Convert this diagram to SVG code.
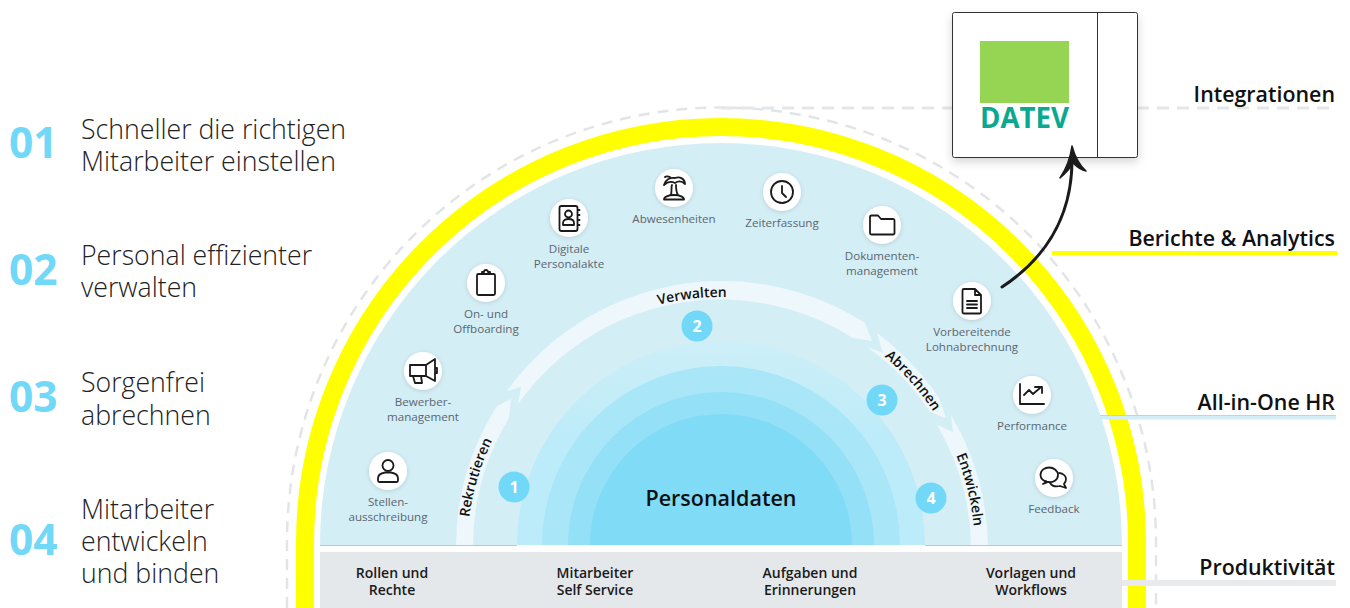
<svg xmlns="http://www.w3.org/2000/svg" width="1350" height="608" viewBox="0 0 1350 608">
<style>
text{font-family:"Open Sans","Noto Sans","Liberation Sans",sans-serif}
.num{font-size:42.500px;font-weight:700;fill:#72d8f7}
.lead{font-size:26.700px;font-weight:300;fill:#222}
.side{font-size:21.400px;font-weight:600;fill:#111;text-anchor:end}
.lab{font-size:11.600px;font-weight:400;fill:#5b6670;text-anchor:middle}
.prod{font-size:14px;font-weight:600;fill:#1a1a1a;text-anchor:middle}
.arc{font-size:14px;font-weight:600;fill:#111;text-anchor:middle}
.band{fill:#eef8fc}
.bub{fill:#72d8f7}
.bubt{font-size:16px;font-weight:700;fill:#fff;text-anchor:middle}
.disc{fill:#fff;filter:url(#sh)}
.ic{fill:none;stroke:#1a1a1a;stroke-width:1.800;stroke-linejoin:round;stroke-linecap:round}
</style>
<defs>
<filter id="sh" x="-40%" y="-40%" width="180%" height="180%"><feDropShadow dx="0" dy="1" stdDeviation="2" flood-color="#000" flood-opacity=".14"/></filter>
<filter id="cs" x="-15%" y="-15%" width="130%" height="135%"><feDropShadow dx="0" dy="4" stdDeviation="5" flood-color="#000" flood-opacity=".16"/></filter>
<linearGradient id="rg" x1="0" y1="0" x2="0" y2="1"><stop offset="0" stop-color="#cdeff8"/><stop offset=".5" stop-color="#bcebf9"/></linearGradient>
<path id="ap" d="M467 551A254 254 0 0 1 975 551"/>
</defs>
<g id="backdrop">
<path d="M287 608V542A434.500 434.500 0 0 1 1156 542V608" fill="none" stroke="#e2e5e7" stroke-width="2.500" stroke-dasharray="11 8"/>
<path d="M305 608V543A416 416 0 0 1 1137 543V608" fill="none" stroke="#ffff00" stroke-width="18"/>
<path d="M320 545A401 402 0 0 1 1122 545Z" fill="#d4eef6"/>
<path d="M320 545.500H517M925 545.500H1122" stroke="#bfc7cc" stroke-width="1"/>
<path d="M517 545A204 204 0 0 1 925 545Z" fill="url(#rg)"/>
<path d="M542 545A179 179 0 0 1 900 545Z" fill="#a9e6f8"/>
<path d="M568 545A153 153 0 0 1 874 545Z" fill="#94e0f7"/>
<path d="M590 545A131 131 0 0 1 852 545Z" fill="#80dbf6"/>
<rect x="320" y="552" width="802" height="56" fill="#e4e8eb"/>
</g>
<g id="intro">
<text class="num" x="9" y="158">01</text>
<text class="lead" x="81" y="138.500">Schneller die richtigen</text>
<text class="lead" x="81" y="170.500">Mitarbeiter einstellen</text>
<text class="num" x="9" y="285">02</text>
<text class="lead" x="81" y="265">Personal effizienter</text>
<text class="lead" x="81" y="297">verwalten</text>
<text class="num" x="9" y="412">03</text>
<text class="lead" x="81" y="392">Sorgenfrei</text>
<text class="lead" x="81" y="424.500">abrechnen</text>
<text class="num" x="9" y="555">04</text>
<text class="lead" x="81" y="519">Mitarbeiter</text>
<text class="lead" x="81" y="551">entwickeln</text>
<text class="lead" x="81" y="583">und binden</text>
</g>
<g id="connectors">
<path d="M1137 108H1336" stroke="#e4e6e8" stroke-width="3" stroke-dasharray="12 8" fill="none"/>
<path d="M722 108H952" stroke="#e4e6e8" stroke-width="3" stroke-dasharray="12 8" fill="none"/>
<rect x="1052" y="251" width="285" height="4" fill="#ffff00"/>
<rect x="1100" y="416" width="236" height="3.500" fill="#d4eef6"/>
<rect x="1100" y="415" width="236" height="1" fill="#b9d6e2"/>
<rect x="1122" y="580" width="214" height="6" fill="#e8eaec"/>
</g>
<g id="process">
<path class="band" d="M456 545A265 265 0 0 1 497 406L511 399L509 418A248 248 0 0 0 473 545Z"/>
<path class="band" d="M507 391A265 265 0 0 1 865 323L872 341L853 338A248 248 0 0 0 518 404L521 387Z"/>
<path class="band" d="M877 333A265 265 0 0 1 939 398L946 418L930 412A248 248 0 0 0 867 347L883 353Z"/>
<path class="band" d="M951 415A266 266 0 0 1 988 545H971A249 249 0 0 0 937 425L953 432Z"/>
<text class="arc"><textPath href="#ap" startOffset="9.300%">Rekrutieren</textPath></text>
<text class="arc"><textPath href="#ap" startOffset="46.400%">Verwalten</textPath></text>
<text class="arc"><textPath href="#ap" startOffset="76.900%">Abrechnen</textPath></text>
<text class="arc"><textPath href="#ap" startOffset="92.300%">Entwickeln</textPath></text>
<g id="step1"><circle class="bub" cx="514" cy="487" r="15.500"/><text class="bubt" x="514" y="493">1</text></g>
<g id="step2"><circle class="bub" cx="697" cy="326" r="15.500"/><text class="bubt" x="697" y="332">2</text></g>
<g id="step3"><circle class="bub" cx="882" cy="400" r="15.500"/><text class="bubt" x="882" y="406">3</text></g>
<g id="step4"><circle class="bub" cx="931" cy="498" r="15.500"/><text class="bubt" x="931" y="504">4</text></g>
</g>
<g id="personaldaten"><text x="721" y="506" font-size="21.500" font-weight="600" fill="#111" text-anchor="middle">Personaldaten</text></g>
<g id="node-stellen" transform="translate(388 471)"><circle class="disc" r="19"/>
<circle class="ic" cy="-5.500" r="5.500"/><path class="ic" d="M-10 7.500C-10 3.500-6 2-3 1.500H3C6 2 10 3.500 10 7.500V9.500A1.500 1.500 0 0 1 8.500 11H-8.500A1.500 1.500 0 0 1-10 9.500Z"/>
<text class="lab" y="35">Stellen-</text><text class="lab" y="50">ausschreibung</text></g>
<g id="node-bewerber" transform="translate(423 371)"><circle class="disc" r="19"/>
<path class="ic" d="M12 -12V10L3 5H-13V-6H3ZM3 -6V5M-10 5L-8 12H-1L-2 5M12 -3H14V2H12"/>
<text class="lab" y="35">Bewerber-</text><text class="lab" y="49.500">management</text></g>
<g id="node-onboarding" transform="translate(486 283)"><circle class="disc" r="19"/>
<rect class="ic" x="-9" y="-9" width="18" height="21" rx="1.500"/><path class="ic" d="M-4 -9V-11H-2A2 2 0 0 1 2 -11H4V-9Z"/>
<text class="lab" y="35">On- und</text><text class="lab" y="49.500">Offboarding</text></g>
<g id="node-akte" transform="translate(569 218)"><circle class="disc" r="19"/>
<rect class="ic" x="-9.500" y="-12" width="18" height="25" rx="2"/><circle class="ic" cx="-.5" cy="-4" r="3.500"/><path class="ic" d="M-6 7V5C-6 2-3 1-.5 1S5 2 5 5V7ZM9 -8H10.500M9 -3H10.500M9 2H10.500M9 7H10.500"/>
<text class="lab" y="35">Digitale</text><text class="lab" y="49.500">Personalakte</text></g>
<g id="node-abwesenheiten" transform="translate(674 188)"><circle class="disc" r="19"/>
<path class="ic" d="M-2 -3C-3 -1-2 3-3 7M2 -3C2 0 2 4 4 7M-10 -3C-9 -8-4 -11 1 -10C6 -12 11 -9 11 -4C8 -7 4 -7 1 -5C-3 -7-7 -6-10 -3ZM-3 -10C-5 -12-8 -12-9 -11M-10 11.500C-10 9-6 7 0 7S10 9 10 11.500Z"/>
<text class="lab" y="35">Abwesenheiten</text></g>
<g id="node-zeit" transform="translate(782 192)"><circle class="disc" r="19"/>
<circle class="ic" r="11"/><path class="ic" d="M0 -6V1L4 5"/>
<text class="lab" y="35">Zeiterfassung</text></g>
<g id="node-dokumente" transform="translate(882 225)"><circle class="disc" r="19"/>
<path class="ic" d="M-12 -8A1.500 1.500 0 0 1-10.500 -9.500H-4L-1 -6H11A1.500 1.500 0 0 1 12.500 -4.500V8A1.500 1.500 0 0 1 11 9.500H-10.500A1.500 1.500 0 0 1-12 8Z"/>
<text class="lab" y="35">Dokumenten-</text><text class="lab" y="49.500">management</text></g>
<g id="node-lohn" transform="translate(972 301)"><circle class="disc" r="19"/>
<path class="ic" d="M-8 -12H3L9 -6V11A1.500 1.500 0 0 1 7.500 12.500H-8A1.500 1.500 0 0 1-9.500 11V-10.500A1.500 1.500 0 0 1-8 -12ZM3 -12V-6H9M-5 0H5M-5 3.500H5M-5 7H5"/>
<text class="lab" y="35">Vorbereitende</text><text class="lab" y="49.500">Lohnabrechnung</text></g>
<g id="node-performance" transform="translate(1032 395)"><circle class="disc" r="19"/>
<path class="ic" d="M-12 -11V9H12M-8 0L-3 -5L1 -1L8 -7M3 -8H10V-2"/>
<text class="lab" y="35">Performance</text></g>
<g id="node-feedback" transform="translate(1054 478)"><circle class="disc" r="19"/>
<path class="ic" d="M-5 4C-11 4-13.500 0-13.500 -3C-13.500 -8-9 -10.500-5 -10.500C0 -10.500 4 -7 4 -3C4 2 -1 5 -6 4L-11 6C-9 5 -8 4-8 3"/>
<path class="ic" d="M5 -5C10 -5 12 -1 12 1C12 3 11 5 10 6L12 10L6 8C2 9-2 8-4 5"/>
<text class="lab" y="35">Feedback</text></g>
<g id="produkt">
<text class="prod" x="392" y="578">Rollen und</text><text class="prod" x="392" y="595">Rechte</text>
<text class="prod" x="595" y="578">Mitarbeiter</text><text class="prod" x="595" y="595">Self Service</text>
<text class="prod" x="810" y="578">Aufgaben und</text><text class="prod" x="810" y="595">Erinnerungen</text>
<text class="prod" x="1031" y="578">Vorlagen und</text><text class="prod" x="1031" y="595">Workflows</text>
</g>
<g id="labels">
<text class="side" x="1335" y="102">Integrationen</text>
<text class="side" x="1335" y="246">Berichte &amp; Analytics</text>
<text class="side" x="1335" y="410">All-in-One HR</text>
<text class="side" x="1335" y="575">Produktivität</text>
</g>
<g id="node-datev">
<rect x="952.500" y="12.500" width="185" height="145" rx="2" fill="#fff" stroke="#333" stroke-width="1" filter="url(#cs)"/>
<path d="M1097.500 12.500V157.500" stroke="#333" stroke-width="1"/>
<rect x="980" y="41" width="89" height="62" fill="#95d553"/>
<text x="980" y="128" font-size="28" font-weight="700" fill="#0aa98f" textLength="89" lengthAdjust="spacingAndGlyphs">DATEV</text>
</g>
<g id="arrow">
<path d="M1002 287C1040 262 1072 222 1072 160" fill="none" stroke="#1a1a1a" stroke-width="3" stroke-linecap="round"/>
<path d="M1072 146C1070 160 1066 169 1060 178C1066 173 1071 167 1073 163C1077 167 1081 170 1086 171C1079 165 1075 157 1072 146Z" fill="#1a1a1a" stroke="#1a1a1a" stroke-width="1.500" stroke-linejoin="round"/>
</g>
</svg>
